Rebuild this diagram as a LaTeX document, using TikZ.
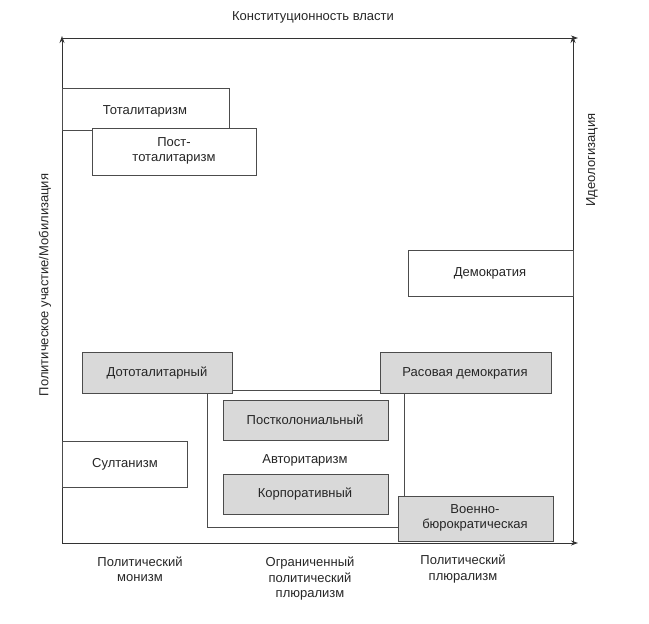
\documentclass[tikz,border=0pt]{standalone}
\usepackage{fontspec}
\setmainfont{Liberation Sans}
\usetikzlibrary{arrows.meta}
\begin{document}
\begin{tikzpicture}[x=1pt,y=-1pt,
  every node/.style={font=\fontsize{13}{15.5}\selectfont,text=black!85},
  wbox/.style={draw=black!70,fill=white,line width=0.8pt},
  gbox/.style={draw=black!70,fill=black!15,line width=0.8pt},
  axis/.style={draw=black!80,line width=0.9pt,-{Stealth[length=7pt,width=5pt]}},
  lbl/.style={align=center}]
\useasboundingbox (0,0) rectangle (649,624);
\coordinate (o) at (62,543);
\coordinate (tl) at (62,36);
\coordinate (tr) at (578,38);
\coordinate (br) at (578,543);
\coordinate (rb) at (573,543);
\coordinate (rt) at (573,36);
\coordinate (tls) at (62,38);
\draw[axis] (o) -- (tl);
\draw[axis] (tls) -- (tr);
\draw[axis] (o) -- (br);
\draw[axis] (rb) -- (rt);
\node (t1) at (313,17) {Конституционность власти};
\node[rotate=90] (t2) at (45,285) {Политическое участие/Мобилизация};
\node[rotate=90] (t3) at (592,160) {Идеологизация};
% authoritarianism
\draw[wbox] (207,390) rectangle (404,527);
\node (avt) at (305,460) {Авторитаризм};
\draw[wbox] (62,88) rectangle (229,130);
\node (tot) at (145,111) {Тоталитаризм};
\draw[wbox] (92,128) rectangle (256,175);
\node[lbl] (post) at (174,151) {Пост-\\тоталитаризм};
\draw[wbox] (408,250) rectangle (573,296);
\node (dem) at (490,273) {Демократия};
\draw[gbox] (82,352) rectangle (232,393);
\node (dot) at (157,373) {Дототалитарный};
\draw[gbox] (380,352) rectangle (551,393);
\node (ras) at (465,373) {Расовая демократия};
\draw[gbox] (223,400) rectangle (388,440);
\node (pk) at (305,420) {Постколониальный};
\draw[gbox] (223,474) rectangle (388,514);
\node (korp) at (305,494) {Корпоративный};
\draw[wbox] (62,441) rectangle (187,487);
\node (sul) at (125,464) {Султанизм};
\draw[gbox] (398,496) rectangle (553,541);
\node[lbl] (vb) at (475,518) {Военно-\\бюрократическая};
\node[lbl] (b1) at (140,569) {Политический\\монизм};
\node[lbl] (b2) at (310,579) {Ограниченный\\политический\\плюрализм};
\node[lbl] (b3) at (463,569) {Политический\\плюрализм};
\end{tikzpicture}
\end{document}
